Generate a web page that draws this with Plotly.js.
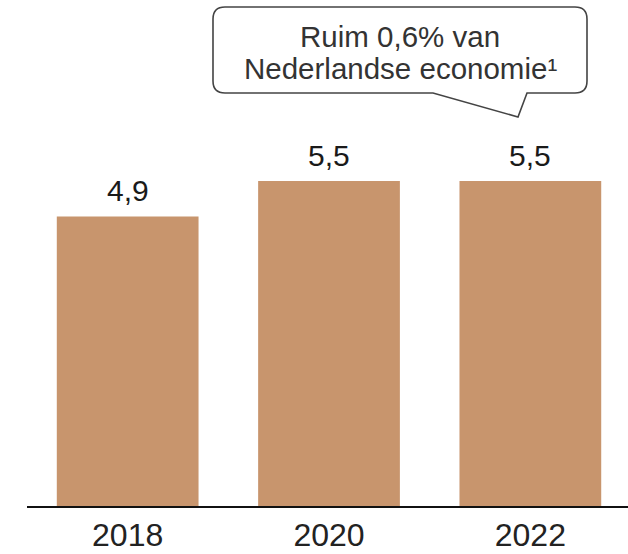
<!DOCTYPE html>
<html>
<head>
<meta charset="utf-8">
<script src="https://cdn.plot.ly/plotly-3.0.1.min.js"></script>
<style>html,body{margin:0;padding:0;background:#fff;}#chart{width:628px;height:554px;}</style>
</head>
<body>
<div id="chart"></div>
<script>
// Data
const years = ["2018", "2020", "2022"];
const values = [4.9, 5.5, 5.5];
const calloutLines = ["Ruim 0,6% van", "Nederlandse economie\u00B9"];

// Layout geometry (pixels)
const W = 628, H = 554;
const M = {l: 27, r: 0, t: 0, b: 48};
const plotW = W - M.l - M.r, plotH = H - M.t - M.b;
const px = x => (x - M.l) / plotW;
const py = y => (M.t + plotH - y) / plotH;

const barColor = "#C8956D";
const font = "Liberation Sans, Arial, sans-serif";

// Callout bubble path (paper coords)
const bx0 = 213, bx1 = 587, by0 = 7, by1 = 93, r = 12;
const tail = [[433, 93], [518, 117], [527, 93]];
const P = (x, y) => px(x).toFixed(5) + "," + py(y).toFixed(5);
const path =
  "M " + P(bx0 + r, by0) +
  " L " + P(bx1 - r, by0) +
  " Q " + P(bx1, by0) + " " + P(bx1, by0 + r) +
  " L " + P(bx1, by1 - r) +
  " Q " + P(bx1, by1) + " " + P(bx1 - r, by1) +
  " L " + P(tail[2][0], tail[2][1]) +
  " L " + P(tail[1][0], tail[1][1]) +
  " L " + P(tail[0][0], tail[0][1]) +
  " L " + P(bx0 + r, by1) +
  " Q " + P(bx0, by1) + " " + P(bx0, by1 - r) +
  " L " + P(bx0, by0 + r) +
  " Q " + P(bx0, by0) + " " + P(bx0 + r, by0) + " Z";

const fmt = v => v.toFixed(1).replace(".", ",");

const annotations = years.map((yr, i) => ({
  x: i, y: values[i], xref: "x", yref: "y",
  text: fmt(values[i]), showarrow: false,
  yanchor: "bottom", yshift: 7,
  font: {family: font, size: 30, color: "#1a1a1a"}
}));
const lineBaselines = [48, 80];
calloutLines.forEach((t, i) => {
  annotations.push({
    x: px(400), y: py(lineBaselines[i] + 7), xref: "paper", yref: "paper",
    text: t, showarrow: false, xanchor: "center", yanchor: "bottom",
    font: {family: font, size: 29.5, color: "#333333"}
  });
});

const trace = {
  type: "bar", x: years, y: values,
  marker: {color: barColor, line: {width: 0}},
  hoverinfo: "none"
};

const layout = {
  width: W, height: H,
  margin: M,
  paper_bgcolor: "#fff", plot_bgcolor: "#fff",
  showlegend: false,
  bargap: 0.296,
  xaxis: {
    type: "category", range: [-0.5, 2.485],
    showline: true, linecolor: "#111", linewidth: 2,
    ticks: "", showgrid: false, zeroline: false,
    tickfont: {family: font, size: 32, color: "#222"}
  },
  yaxis: {
    range: [0, plotH / (325 / 5.5)],
    visible: false, showgrid: false, zeroline: false
  },
  shapes: [{
    type: "path", xref: "paper", yref: "paper", path: path,
    line: {color: "#444", width: 1.6}, fillcolor: "#fff"
  }],
  annotations: annotations
};

Plotly.newPlot("chart", [trace], layout, {staticPlot: true, displayModeBar: false});
</script>
</body>
</html>
